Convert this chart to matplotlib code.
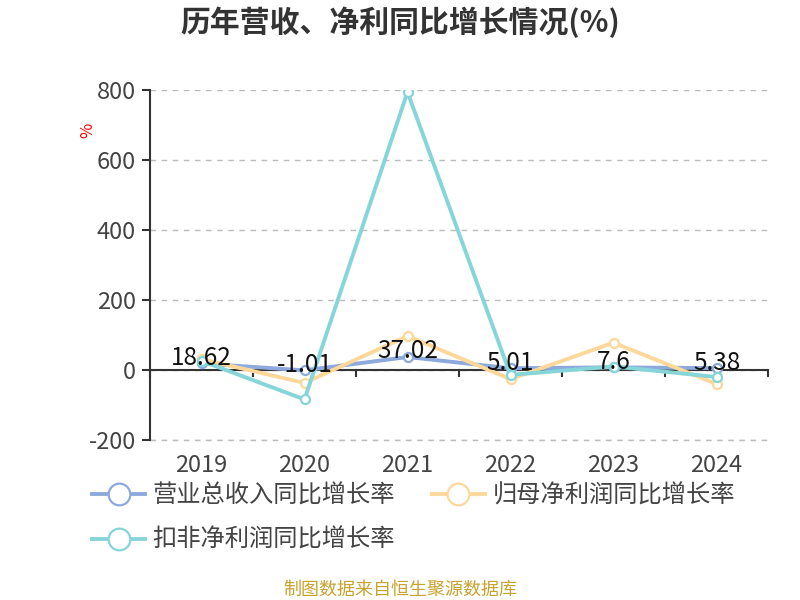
import matplotlib
matplotlib.use("Agg")
import matplotlib.pyplot as plt

plt.rcParams['font.family'] = ['Noto Sans CJK SC', 'DejaVu Sans']
plt.rcParams['axes.unicode_minus'] = False

years = ["2019", "2020", "2021", "2022", "2023", "2024"]
revenue_yoy = [18.62, -1.01, 37.02, 5.01, 7.6, 5.38]
net_profit_yoy = [31, -37, 97, -26, 78, -40]
deducted_profit_yoy = [26, -84, 794, -14, 10, -20]

series = [
    ("营业总收入同比增长率", revenue_yoy, "#8eaadc"),
    ("归母净利润同比增长率", net_profit_yoy, "#fdd89a"),
    ("扣非净利润同比增长率", deducted_profit_yoy, "#86d5d8"),
]

fig = plt.figure(figsize=(8, 6), dpi=100)
ax = fig.add_axes([150 / 800, 1 - 440 / 600, 618 / 800, 350 / 600])

x = list(range(len(years)))
handles = []
for i, (name, vals, color) in enumerate(series):
    h, = ax.plot(x, vals, color=color, lw=2.8, marker="o", markersize=6.5,
                 markerfacecolor="white", markeredgecolor=color, markeredgewidth=1.6,
                 zorder=3 + i, label=name)
    handles.append(h)

# labels on the revenue series
for xi, v in zip(x, revenue_yoy):
    ax.annotate(f"{v:g}", (xi, v), textcoords="offset points", xytext=(0, 4),
                ha="center", va="center", fontsize=17.5, color="#111111", zorder=10)

ax.set_xlim(-0.5, len(years) - 0.5)
ax.set_ylim(-200, 800)
ax.set_yticks([-200, 0, 200, 400, 600, 800])
ax.yaxis.grid(True, linestyle=(0, (4, 4)), color="#bbbbbb", lw=1)
ax.axhline(-200, linestyle=(0, (4, 4)), color="#bbbbbb", lw=1, clip_on=False, zorder=1)
ax.set_axisbelow(True)

for s in ["top", "right", "bottom"]:
    ax.spines[s].set_visible(False)
ax.spines["left"].set_color("#333333")
ax.spines["left"].set_linewidth(1.5)
ax.tick_params(axis="y", length=6, width=1.5, color="#333333", labelsize=17,
               labelcolor="#444444", pad=4)

ax.set_xticks(x)
ax.set_xticklabels(years)
ax.tick_params(axis="x", length=0, labelsize=17, labelcolor="#444444", pad=10)

# zero axis line with boundary ticks
ax.axhline(0, color="#333333", lw=1.5, zorder=2)
for b in range(len(years) + 1):
    ax.plot([b - 0.5, b - 0.5], [0, -18], color="#333333", lw=1.5, zorder=2,
            clip_on=False)

fig.text(88 / 800, 1 - 130 / 600, "%", color="red", fontsize=12, rotation=90,
         ha="center", va="center")

fig.text(0.5, 1 - 22 / 600, "历年营收、净利同比增长情况(%)", fontsize=21.5,
         fontweight="bold", color="#333333", ha="center", va="center")

# row 1: revenue, net profit; row 2: deducted profit
order = [handles[0], handles[2], handles[1]]
leg = fig.legend(handles=order, loc="upper left", ncol=2,
                 bbox_to_anchor=(70 / 800, 1 - 461 / 600), frameon=False,
                 fontsize=17.5, handlelength=2.2, handletextpad=0.3,
                 columnspacing=1.5, labelspacing=0.75, markerscale=2.4)
for t in leg.get_texts():
    t.set_color("#444444")

fig.text(0.5, 1 - 590 / 600, "制图数据来自恒生聚源数据库", fontsize=13,
         color="#c9a22f", ha="center", va="center")

fig.savefig("out.png", dpi=100)
